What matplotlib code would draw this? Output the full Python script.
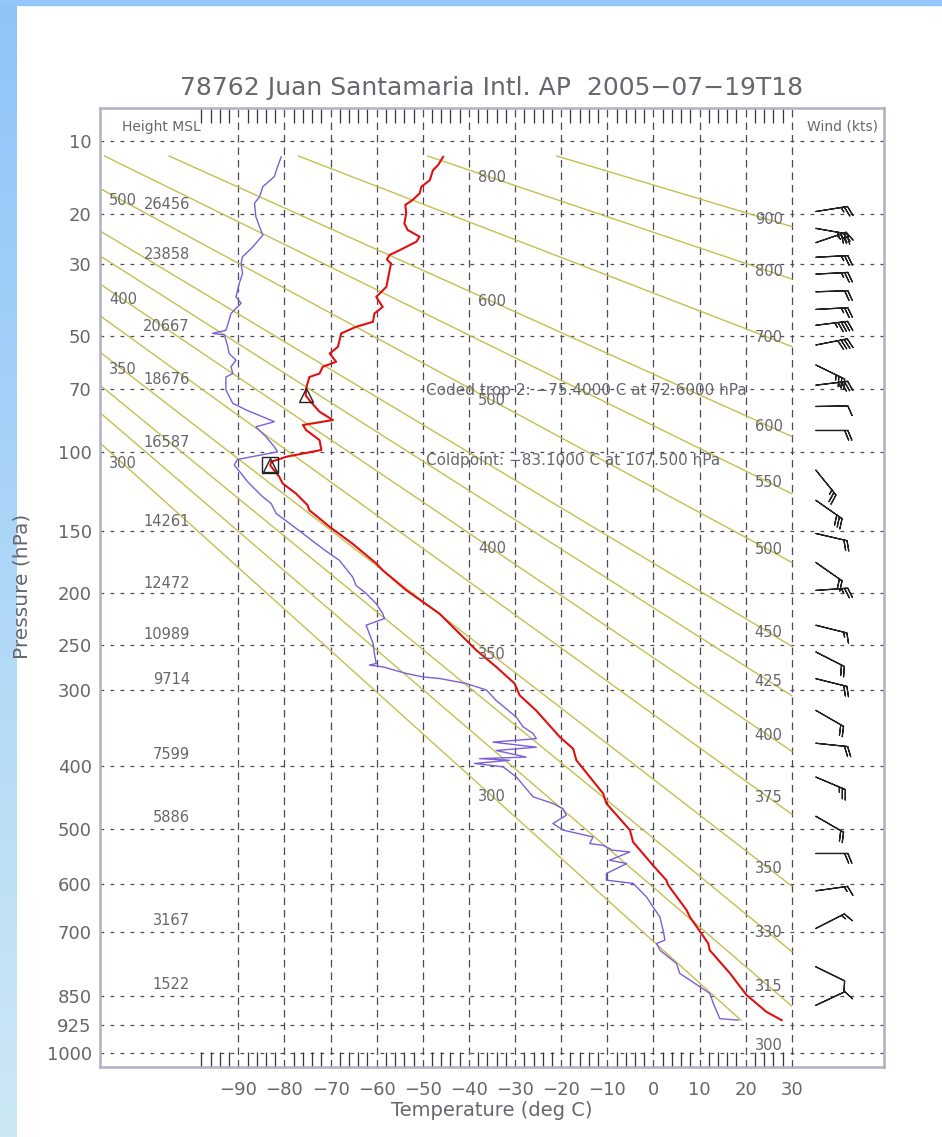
import numpy as np
import matplotlib
matplotlib.use('Agg')
import matplotlib.pyplot as plt
from matplotlib.patches import Rectangle

KAPPA = 0.286

# temperature trace (deg C) and pressure (hPa)
temp_p = [11.8, 12.8, 13.45, 14.8, 15.7, 16.7, 17.7, 18.5, 19.9, 21.7, 22.9, 24.2, 25.2, 27.0, 28.0,
          29.0, 29.9, 31.5, 35.6, 37.4, 38.3, 41.1, 43.0, 45.5, 47.1, 49.2, 53.7, 56.1, 59.1, 61.0,
          63.6, 65.0, 69.6, 72.6, 74.7, 79.9, 83.8, 86.2, 88.7, 93.8, 99.0, 102.7, 105.5, 107.5, 114.3,
          118.2, 124.5, 132.0, 135.4, 146.9, 159.4, 174.7, 180.3, 197.3, 218.7, 255.4, 273.4, 292.4,
          306.4, 325.3, 359.7, 375.9, 392.2, 442.1, 457.9, 502.1, 522.9, 565.1, 593.4, 603.0, 653.4,
          667.6, 725.1, 740.0, 793.9, 846.8, 889.3, 911.0]
temp_t = [-45.6, -46.7, -47.8, -48.5, -50.3, -50.7, -52.2, -53.8, -53.6, -54.0, -53.3, -50.7, -51.4,
          -55.1, -57.2, -57.8, -56.9, -57.2, -57.9, -59.4, -60.1, -58.7, -60.5, -60.8, -64.5, -67.7,
          -68.4, -70.2, -68.8, -71.7, -72.4, -74.6, -75.3, -75.4, -74.6, -72.4, -69.5, -76.0, -75.3,
          -72.4, -72.0, -79.6, -82.9, -83.1, -81.1, -80.4, -77.5, -75.0, -74.6, -70.2, -65.2, -60.1,
          -58.7, -53.6, -46.4, -38.4, -34.1, -30.1, -29.0, -25.4, -20.3, -17.4, -16.7, -10.9, -10.2,
          -5.1, -4.4, -0.1, 2.8, 3.2, 7.2, 7.9, 11.9, 12.2, 16.6, 20.2, 24.5, 27.8]

# dewpoint trace
dewp_p = [11.8, 13.0, 14.3, 15.7, 17.2, 18.25, 20.5, 22.3, 23.9, 26.3, 28.4, 29.9, 32.3, 34.7, 38.3,
          40.0, 43.0, 45.0, 48.2, 49.2, 49.7, 53.7, 56.1, 58.5, 61.0, 63.6, 65.0, 70.3, 71.8, 76.1,
          79.1, 82.3, 84.6, 87.1, 92.1, 97.3, 100.0, 104.2, 107.4, 112.2, 116.2, 120.3, 126.6, 130.9,
          137.6, 144.5, 151.7, 159.4, 167.0, 172.2, 186.0, 193.1, 200.1, 209.4, 218.7, 223.4, 229.9,
          238.3, 248.3, 258.9, 269.7, 271.5, 273.4, 280.9, 284.8, 286.6, 292.4, 300.1, 312.7, 333.7,
          346.0, 355.0, 362.0, 366.7, 373.7, 378.3, 387.6, 389.8, 392.2, 396.8, 401.7, 416.9, 447.3,
          457.9, 466.2, 477.2, 490.9, 502.1, 514.0, 525.7, 528.7, 537.6, 540.6, 555.7, 561.9, 580.8,
          593.4, 599.6, 626.5, 646.6, 667.6, 695.8, 717.6, 725.1, 740.0, 770.6, 793.9, 826.5, 842.6,
          867.9, 907.0, 911.0]
dewp_t = [-80.7, -81.5, -82.2, -84.7, -85.4, -86.5, -86.2, -85.4, -84.7, -86.9, -89.1, -89.4, -89.1,
          -89.8, -90.5, -89.4, -91.6, -92.0, -92.7, -95.6, -93.0, -92.3, -92.0, -90.5, -91.6, -91.2,
          -92.7, -92.7, -92.3, -91.2, -88.3, -84.7, -82.2, -86.2, -84.0, -82.2, -81.5, -90.2, -90.9,
          -89.4, -88.3, -86.9, -84.7, -82.9, -81.8, -78.9, -76.0, -73.1, -70.2, -68.1, -65.2, -64.5,
          -62.3, -60.1, -58.7, -58.3, -62.3, -61.6, -60.8, -60.5, -60.1, -61.6, -58.7, -53.6, -50.0,
          -46.4, -40.6, -36.2, -34.1, -29.7, -28.3, -26.1, -25.4, -34.8, -25.4, -34.1, -27.6, -37.7,
          -31.2, -38.8, -32.6, -29.7, -26.1, -21.8, -19.6, -18.9, -21.8, -19.6, -13.1, -13.8, -10.9,
          -8.8, -5.1, -9.5, -5.8, -10.2, -10.2, -4.4, -1.5, -0.1, 1.4, 2.1, 2.5, 0.7, 1.4, 5.0, 5.7,
          10.1, 12.2, 13.0, 14.4, 18.4]

theta_lines = [300, 315, 330, 350, 375, 400, 425, 450, 500, 550, 600, 700, 800, 900]
theta_inner_labels = [300, 350, 400, 500, 600, 800]

p_levels = [10, 20, 30, 50, 70, 100, 150, 200, 250, 300, 400, 500, 600, 700, 850, 925, 1000]
height_p = [20, 30, 50, 70, 100, 150, 200, 250, 300, 400, 500, 700, 850]
height_m = [26456, 23858, 20667, 18676, 16587, 14261, 12472, 10989, 9714, 7599, 5886, 3167, 1522]

# winds: level (hPa), direction from (deg), speed (kts)
wind_p = [19.6, 22.6, 25.4, 28.5, 32.4, 36.9, 41.8, 46.6, 53.1, 60.3, 68.3, 77.5, 88.9, 110.2,
          128.8, 151.7, 173.9, 197.5, 229.9, 257.2, 286.8, 324.9, 368.2, 416.8, 478.7, 543.4,
          614.3, 692.2, 778.4, 872.6]
wind_dir = [81, 100, 71, 87, 87, 88, 87, 83, 79, 116, 83, 89, 90, 141, 125, 103, 125, 86, 104,
            117, 104, 120, 96, 113, 120, 90, 82, 63, 116, 65]
wind_kt = [25, 35, 35, 25, 25, 20, 25, 45, 40, 35, 35, 10, 20, 25, 30, 20, 20, 25, 15, 20, 20,
           20, 20, 25, 20, 20, 15, 15, 10, 10]

trop_t, trop_p = -75.4, 72.6
cold_t, cold_p = -83.1, 107.5
p_top, p_sfc = 11.7, 911.0

TXT = '#66666e'
plt.rcParams['font.family'] = ['DejaVu Sans']

fig = plt.figure(figsize=(9.42, 11.37), dpi=100)

# blue frame of the page
grad = fig.add_axes([0, 0, 17 / 942, 1])
g = np.linspace(0, 1, 256)[:, None]
top_c = np.array([0.56, 0.77, 0.98])
bot_c = np.array([0.80, 0.91, 0.96])
grad.imshow(top_c + (bot_c - top_c) * g[:, :, None], aspect='auto')
grad.axis('off')
fig.patches.append(Rectangle((0, 1 - 5 / 1137), 1, 5 / 1137, transform=fig.transFigure,
                             color='#94c6fb', zorder=0))

ax = fig.add_axes([100 / 942, 70 / 1137, 784 / 942, 958.7 / 1137])
ax.set_yscale('function', functions=(lambda p: np.abs(p) ** KAPPA,
                                     lambda y: np.abs(y) ** (1 / KAPPA)))
ax.set_xlim(-120, 50)
ax.set_ylim(1040, 7)

# dry adiabats
for th in theta_lines:
    p_end = min(p_sfc, 1000 * ((30 + 273.15) / th) ** (1 / KAPPA))
    pp = np.array([p_top, p_end])
    tt = th * (pp / 1000) ** KAPPA - 273.15
    ax.plot(tt, pp, color='#c6bf4e', lw=1.0, zorder=2)
    p_lab = 1000 * ((25 + 273.15) / th) ** (1 / KAPPA)
    ax.text(25, p_lab, str(th), color=TXT, fontsize=10.5, ha='center', va='center', zorder=4)
for th in theta_inner_labels:
    for tl in (-115, -35):
        p_lab = 1000 * ((tl + 273.15) / th) ** (1 / KAPPA)
        if p_top < p_lab < 1000:
            ax.text(tl, p_lab, str(th), color=TXT, fontsize=10.5, ha='center', va='center',
                    zorder=4)

# grid
for p in p_levels:
    ax.axhline(p, color='#4a4a5e', lw=0.9, ls=(0, (3, 5)), zorder=1)
for t in range(-90, 31, 10):
    ax.axvline(t, color='#4a4a5e', lw=0.9, ls=(0, (6, 4)), zorder=1)

ax.plot(dewp_t, dewp_p, color='#7b5fd8', lw=1.0, zorder=3)
ax.plot(temp_t, temp_p, color='#e01010', lw=1.5, zorder=3)

ax.plot(trop_t, trop_p, marker='^', ms=10, mfc='none', mec='#222222', mew=1.0, zorder=5)
ax.plot(cold_t, cold_p, marker='s', ms=11, mfc='none', mec='#222222', mew=1.0, zorder=5)
ax.plot(cold_t, cold_p, marker='^', ms=10, mfc='none', mec='#222222', mew=1.0, zorder=5)

ax.text(-49.3, trop_p, 'Coded trop 2: \u221275.4000 C at 72.6000 hPa', color=TXT,
        fontsize=11, ha='left', va='baseline', zorder=4)
ax.text(-49.3, cold_p, 'Coldpoint: \u221283.1000 C at 107.500 hPa', color=TXT, fontsize=11,
        ha='left', va='baseline', zorder=4)

# heights
for p, h in zip(height_p, height_m):
    ax.text(-100.5, p / 1.012, str(h), color=TXT, fontsize=10.5, ha='right', va='bottom')
ax.text(-115.3, 8.6, 'Height MSL', color=TXT, fontsize=10, ha='left', va='center')
ax.text(48.8, 8.6, 'Wind (kts)', color=TXT, fontsize=10, ha='right', va='center')

# wind barbs
wd = np.radians(wind_dir)
ws = np.array(wind_kt, dtype=float)
u = -ws * np.sin(wd)
v = -ws * np.cos(wd)
ax.barbs(np.full(len(wind_p), 35.2), wind_p, u, v, length=6.8, lw=0.9, color='#222222',
         pivot='tip', sizes=dict(spacing=0.1, height=0.3, width=0.25, emptybarb=0.0), zorder=5)

# axes and ticks
ax.set_yticks(p_levels)
ax.set_yticklabels([str(p) for p in p_levels])
ax.yaxis.set_minor_locator(matplotlib.ticker.NullLocator())
ax.set_xticks(range(-90, 31, 10))
ax.set_xticklabels([('\u2212' + str(-t)) if t < 0 else str(t) for t in range(-90, 31, 10)])
ax.set_xticks([t for t in range(-98, 29, 2) if t % 10], minor=True)
ax.tick_params(axis='x', which='major', length=0, labelsize=13, labelcolor=TXT, pad=10)
ax.tick_params(axis='x', which='minor', length=11, width=0.9, color='#333344', direction='in',
               top=True, bottom=True)
ax.tick_params(axis='y', which='major', length=0, labelsize=13, labelcolor=TXT, pad=6)
for s in ax.spines.values():
    s.set_color('#b0b0c6')
    s.set_linewidth(1.8)

fig.text(492 / 942, 1 - 88 / 1137, '78762 Juan Santamaria Intl. AP  2005\u221207\u221219T18',
         ha='center', va='center', fontsize=18, color=TXT)
fig.text(492 / 942, 1 - 1110 / 1137, 'Temperature (deg C)', ha='center', va='center',
         fontsize=14, color=TXT)
fig.text(22 / 942, 1 - 586 / 1137, 'Pressure (hPa)', ha='center', va='center', rotation=90,
         fontsize=14.5, color=TXT)

fig.savefig('out.png', dpi=100, facecolor='white')
